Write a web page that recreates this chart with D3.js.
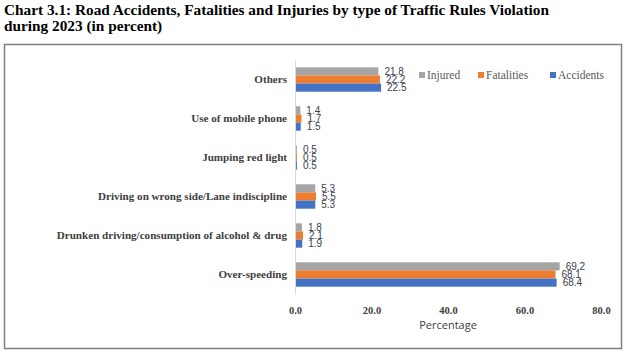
<!DOCTYPE html>
<html><head><meta charset="utf-8">
<script src="https://cdn.jsdelivr.net/npm/d3@7"></script>
<style>body{margin:0;background:#fff}svg{display:block}</style>
</head><body>
<svg id="c" width="629" height="355"></svg>
<script>
const categories = ["Others","Use of mobile phone","Jumping red light","Driving on wrong side/Lane indiscipline","Drunken driving/consumption of alcohol & drug","Over-speeding"];
const seriesNames = ["Injured","Fatalities","Accidents"];
const injured = [21.8,1.4,0.5,5.3,1.8,69.2];
const fatalities = [22.2,1.7,0.5,5.5,2.1,68.1];
const accidents = [22.5,1.5,0.5,5.3,1.9,68.4];
const xTicks = [0,20,40,60,80];
const colors = ["#A5A5A5","#ED7D31","#4472C4"];
const seriesValues = [injured,fatalities,accidents];

const svg = d3.select("#c");
// title
svg.append("text").attr("x",4).attr("y",15).attr("font-family","Liberation Serif").attr("font-weight","bold").attr("font-size",15.3).attr("fill","#000").text("Chart 3.1: Road Accidents, Fatalities and Injuries by type of Traffic Rules Violation");
svg.append("text").attr("x",4).attr("y",31).attr("font-family","Liberation Serif").attr("font-weight","bold").attr("font-size",15.3).attr("fill","#000").text("during 2023 (in percent)");
// frame
svg.append("rect").attr("x",4.5).attr("y",44.5).attr("width",617).attr("height",304).attr("fill","none").attr("stroke","#7f7f7f").attr("stroke-width",1.5);

const x = d3.scaleLinear().domain([0,80]).range([295,601]);
const y = d3.scaleBand().domain(categories).range([60,294]).paddingInner(0).paddingOuter(0);
const yi = d3.scaleBand().domain(seriesNames).range([0,y.bandwidth()]).paddingInner(0).paddingOuter(0.9);

const g = svg.append("g");
categories.forEach((cat,i)=>{
  seriesNames.forEach((s,j)=>{
    const v = seriesValues[j][i];
    g.append("rect").attr("x",x(0)).attr("y",y(cat)+yi(s)).attr("width",x(v)-x(0)).attr("height",yi.bandwidth()).attr("fill",colors[j]);
    g.append("text").attr("x",x(v)+6).attr("y",y(cat)+yi(s)+yi.bandwidth()/2).attr("dy","0.35em")
      .attr("font-family","Liberation Sans").attr("font-size",10).attr("fill","#3a4150").text(v.toFixed(1));
  });
});
// y axis
const yAxis = d3.axisLeft(y).tickSize(0).tickPadding(8);
const ya = svg.append("g").attr("transform","translate(295,0)").call(yAxis);
ya.select(".domain").attr("stroke","#d9d9d9");
ya.selectAll("text").attr("font-family","Liberation Serif").attr("font-weight","bold").attr("font-size",11.1).attr("fill","#404040");
// x axis
const xAxis = d3.axisBottom(x).tickValues(xTicks).tickSize(0).tickPadding(8).tickFormat(d3.format(".1f"));
const xa = svg.append("g").attr("transform","translate(0,299)").call(xAxis);
xa.select(".domain").remove();
xa.selectAll("text").attr("font-family","Liberation Serif").attr("font-weight","bold").attr("font-size",10.5).attr("fill","#404040");
svg.append("text").attr("x",448).attr("y",329).attr("text-anchor","middle").attr("font-family","Open Sans").attr("font-size",11).attr("fill","#404040").text("Percentage");
// legend
const legX = [419,478,550];
seriesNames.forEach((s,j)=>{
  svg.append("rect").attr("x",legX[j]).attr("y",72).attr("width",6).attr("height",6).attr("fill",colors[j]);
  svg.append("text").attr("x",legX[j]+8).attr("y",75).attr("dy","0.35em").attr("font-family","Liberation Serif").attr("font-size",11.5).attr("fill","#595959").text(s);
});
</script>
</body></html>
